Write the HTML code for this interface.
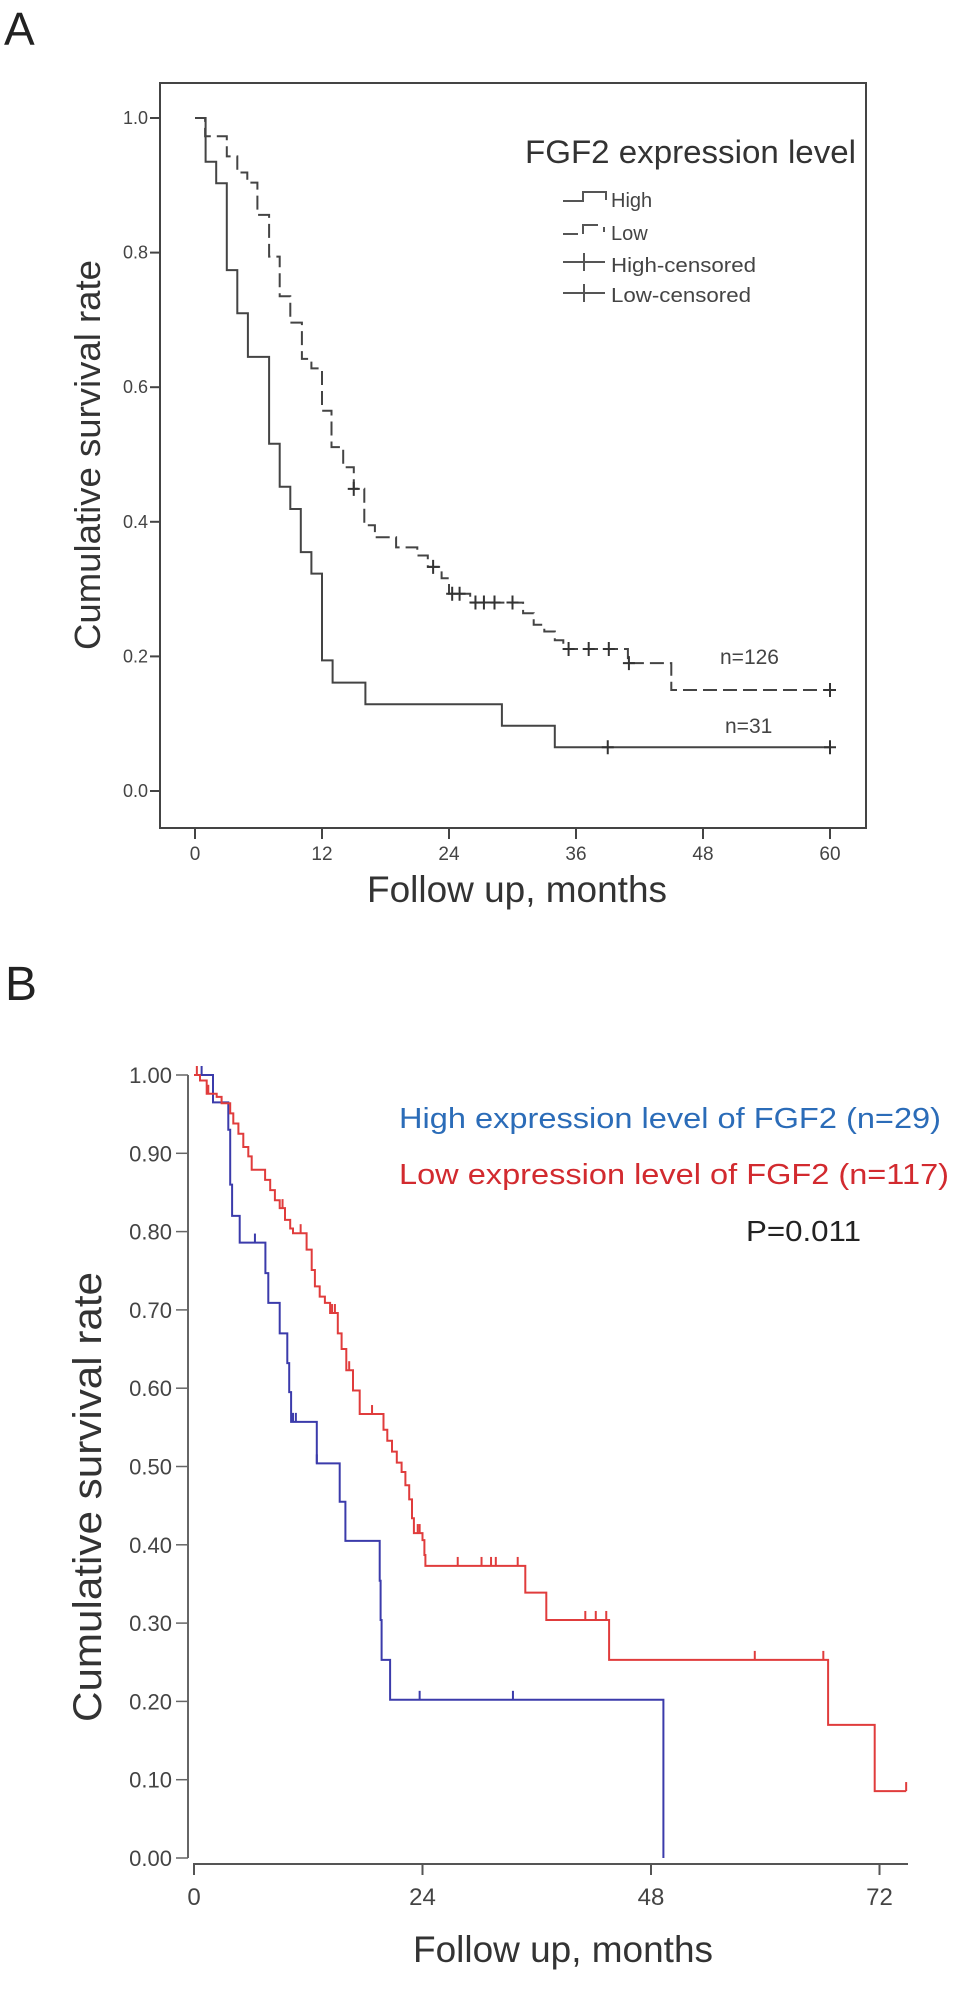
<!DOCTYPE html>
<html>
<head>
<meta charset="utf-8">
<style>
html,body{margin:0;padding:0;background:#fff;}
svg{display:block;}
text{font-family:"Liberation Sans",Arial,sans-serif;}
</style>
</head>
<body>
<svg id="fig" width="965" height="1990" viewBox="0 0 965 1990" xmlns="http://www.w3.org/2000/svg">
  <rect x="0" y="0" width="965" height="1990" fill="#fff"/>
  <!-- Panel A static -->
  <text x="4" y="45" font-size="46" fill="#222">A</text>
  <rect x="160" y="83" width="706" height="745" fill="none" stroke="#444" stroke-width="2"/>
  <g id="aAxes"></g>
  <text transform="translate(100,455) rotate(-90)" text-anchor="middle" font-size="36" fill="#333" textLength="390" lengthAdjust="spacingAndGlyphs">Cumulative survival rate</text>
  <text x="517" y="902" text-anchor="middle" font-size="37" fill="#333" textLength="300" lengthAdjust="spacingAndGlyphs">Follow up, months</text>
  <g>
    <text x="525" y="163" font-size="32" fill="#333" textLength="331" lengthAdjust="spacingAndGlyphs">FGF2 expression level</text>
    <path d="M563,201 H583 V192 H606 V200" fill="none" stroke="#555" stroke-width="2"/>
    <text x="611" y="207" font-size="20" fill="#444">High</text>
    <path d="M563,234 H578 M583,234 V225 H598 M604,227 V232" fill="none" stroke="#555" stroke-width="2"/>
    <text x="611" y="240" font-size="20" fill="#444">Low</text>
    <path d="M563,262 H605 M584,253 V271" fill="none" stroke="#555" stroke-width="2"/>
    <text x="611" y="272" font-size="20" fill="#444" textLength="145" lengthAdjust="spacingAndGlyphs">High-censored</text>
    <path d="M563,293 H605 M584,284 V302" fill="none" stroke="#555" stroke-width="2"/>
    <text x="611" y="302" font-size="20" fill="#444" textLength="140" lengthAdjust="spacingAndGlyphs">Low-censored</text>
  </g>
  <text x="720" y="664" font-size="21" fill="#444">n=126</text>
  <text x="725" y="733" font-size="21" fill="#444">n=31</text>
  <g id="aCurves"></g>

  <!-- Panel B static -->
  <text x="5" y="1000" font-size="48" fill="#222">B</text>
  <g id="bAxes"></g>
  <text transform="translate(101,1497) rotate(-90)" text-anchor="middle" font-size="40" fill="#333" textLength="450" lengthAdjust="spacingAndGlyphs">Cumulative survival rate</text>
  <text x="563" y="1962" text-anchor="middle" font-size="37" fill="#333" textLength="300" lengthAdjust="spacingAndGlyphs">Follow up, months</text>
  <text x="399" y="1128" font-size="29" fill="#2b6cb8" textLength="542" lengthAdjust="spacingAndGlyphs">High expression level of FGF2 (n=29)</text>
  <text x="399" y="1184" font-size="29" fill="#d22a2f" textLength="550" lengthAdjust="spacingAndGlyphs">Low expression level of FGF2 (n=117)</text>
  <text x="746" y="1241" font-size="29" fill="#222" textLength="115" lengthAdjust="spacingAndGlyphs">P=0.011</text>
  <g id="bCurves"></g>
</svg>
<script>
// ---------- Panel A data ----------
const aXTicks = [0, 12, 24, 36, 48, 60];
const aYTicks = [0, 0.2, 0.4, 0.6, 0.8, 1.0];
const aYTickLabels = ["0.0", "0.2", "0.4", "0.6", "0.8", "1.0"];
const aHighTimes = [0,1,2,3,4,5,7,8,9,10,11,12,13,16.1,29,34];
const aHighSurv = [1,0.935,0.903,0.774,0.71,0.645,0.516,0.452,0.419,0.355,0.323,0.194,0.161,0.129,0.097,0.065];
const aHighEnd = 60;
const aHighCensored = [39, 60];
const aLowTimes = [0,0.95,3,4,4.94,5.9,7,8,9,10.1,11,12,12.9,14,15,16,17,19,21,22,23.3,24,26,31,32,33,34,34.8,40.9,45];
const aLowSurv = [1,0.973,0.943,0.919,0.904,0.856,0.794,0.735,0.696,0.642,0.628,0.565,0.511,0.481,0.449,0.395,0.377,0.362,0.35,0.333,0.316,0.293,0.28,0.264,0.247,0.237,0.224,0.211,0.19,0.15];
const aLowEnd = 60;
const aLowCensored = [15,22.5,24.3,25,26.5,27.3,28.3,30,35.3,37.2,39.1,41,60];

// ---------- Panel B data ----------
const bXTicks = [0, 24, 48, 72];
const bYTicks = [0,0.1,0.2,0.3,0.4,0.5,0.6,0.7,0.8,0.9,1.0];
const bYTickLabels = ["0.00","0.10","0.20","0.30","0.40","0.50","0.60","0.70","0.80","0.90","1.00"];
const bHighTimes = [0,2,3.6,3.8,4,4.8,7.5,7.8,9,9.8,10,10.2,12.9,15.3,15.9,19.5,19.6,19.7,20.6,49.3];
const bHighSurv = [1,0.965,0.93,0.86,0.82,0.786,0.747,0.709,0.67,0.632,0.595,0.557,0.504,0.455,0.405,0.354,0.304,0.253,0.202,0];
const bHighEnd = 49.3;
const bHighCensored = [0.8,6.4,10.4,10.7,12.9,23.7,33.5];
const bLowTimes = [0,0.63,1.33,2.38,2.9,3.8,4.13,4.66,5.18,5.7,6.06,7.47,8.0,8.5,9.0,9.56,10.1,10.4,11.83,12.36,12.7,13.2,13.75,14.3,15.1,15.5,16.0,16.7,17.4,19.9,20.3,20.8,21.3,21.8,22.2,22.6,22.9,23.1,24.0,24.2,24.3,34.8,37.0,43.6,66.6,71.5];
const bLowSurv = [1,0.993,0.976,0.972,0.964,0.951,0.938,0.925,0.908,0.896,0.879,0.866,0.853,0.84,0.83,0.815,0.804,0.798,0.777,0.751,0.73,0.717,0.709,0.696,0.67,0.65,0.623,0.597,0.567,0.547,0.533,0.519,0.505,0.493,0.476,0.458,0.434,0.415,0.406,0.387,0.373,0.339,0.304,0.253,0.170,0.0855];
const bLowEnd = 74.8;
const bLowCensored = [0.3,1.5,9.3,11.2,14.5,14.8,16.3,18.7,23.5,23.7,27.7,30.2,31.2,31.7,34.0,41.1,42.2,43.3,58.9,66.1,74.8];

const NS = "http://www.w3.org/2000/svg";
function mk(tag, attrs, parent){
  const e = document.createElementNS(NS, tag);
  for (const k in attrs) e.setAttribute(k, attrs[k]);
  parent.appendChild(e);
  return e;
}
// axis functions
const axA = { x: m => 195 + m * (635/60), y: s => 791 - s * 673 };
const axB = { x: m => 194 + m * (228.5/24), y: s => 1858 - s * 783 };

function survAt(times, surv, t){
  let v = surv[0];
  for (let i = 0; i < times.length; i++) if (times[i] <= t + 1e-9) v = surv[i];
  return v;
}
function stepPath(ax, times, surv, end){
  let d = "M" + ax.x(times[0]).toFixed(1) + "," + ax.y(surv[0]).toFixed(1);
  for (let i = 1; i < times.length; i++){
    d += " H" + ax.x(times[i]).toFixed(1) + " V" + ax.y(surv[i]).toFixed(1);
  }
  if (surv[surv.length-1] > 0) d += " H" + ax.x(end).toFixed(1);
  return d;
}

// ---------- Panel A axes ----------
const aAxes = document.getElementById("aAxes");
aYTicks.forEach((v, i) => {
  const y = axA.y(v);
  const t = mk("line", {x1:150, x2:160, y1:y, y2:y, stroke:"#444", "stroke-width":2}, aAxes);
  
  
  const l = mk("text", {x:148, y:y+6, "text-anchor":"end", "font-size":18, fill:"#444"}, aAxes);
  
  
  l.textContent = aYTickLabels[i];
});
aXTicks.forEach(v => {
  const x = axA.x(v);
  const t = mk("line", {x1:x, x2:x, y1:828, y2:839, stroke:"#444", "stroke-width":2}, aAxes);
  
  
  const l = mk("text", {x:x, y:860, "text-anchor":"middle", "font-size":19, fill:"#444"}, aAxes);
  
  
  l.textContent = String(v);
});

// ---------- Panel A curves ----------
const aCurves = document.getElementById("aCurves");
const aHighLine = mk("path", {d: stepPath(axA, aHighTimes, aHighSurv, aHighEnd), fill:"none", stroke:"#444", "stroke-width":2}, aCurves);


const aLowLine = mk("path", {d: stepPath(axA, aLowTimes, aLowSurv, aLowEnd), fill:"none", stroke:"#444", "stroke-width":2, "stroke-dasharray":"14 6"}, aCurves);


function plusMarks(ax, times, surv, cens, parent, name){
  cens.forEach(t => {
    const x = ax.x(t), y = ax.y(survAt(times, surv, t));
    const p = mk("path", {d:`M${x-6},${y} H${x+6} M${x},${y-7} V${y+7}`, stroke:"#333", "stroke-width":2, fill:"none"}, parent);
    
    
  });
}
plusMarks(axA, aHighTimes, aHighSurv, aHighCensored, aCurves, 'panel-a-high-censor-mark');
plusMarks(axA, aLowTimes, aLowSurv, aLowCensored, aCurves, 'panel-a-low-censor-mark');

// ---------- Panel B axes ----------
const bAxes = document.getElementById("bAxes");
const yAxisB = mk("line", {x1:188, x2:188, y1:axB.y(1.0), y2:axB.y(0), stroke:"#666", "stroke-width":2}, bAxes);


const xAxisB = mk("line", {x1:193, x2:908, y1:1864, y2:1864, stroke:"#555", "stroke-width":2}, bAxes);


bYTicks.forEach((v, i) => {
  const y = axB.y(v);
  const t = mk("line", {x1:176, x2:188, y1:y, y2:y, stroke:"#666", "stroke-width":1.5}, bAxes);
  
  
  const l = mk("text", {x:172, y:y+8, "text-anchor":"end", "font-size":22, fill:"#444"}, bAxes);
  
  
  l.textContent = bYTickLabels[i];
});
bXTicks.forEach(v => {
  const x = axB.x(v);
  const t = mk("line", {x1:x, x2:x, y1:1864, y2:1875, stroke:"#555", "stroke-width":2}, bAxes);
  
  
  const l = mk("text", {x:x, y:1905, "text-anchor":"middle", "font-size":24, fill:"#444"}, bAxes);
  
  
  l.textContent = String(v);
});

// ---------- Panel B curves ----------
const bCurves = document.getElementById("bCurves");
const bHighLine = mk("path", {d: stepPath(axB, bHighTimes, bHighSurv, bHighEnd), fill:"none", stroke:"#3b3bab", "stroke-width":2}, bCurves);


const bLowLine = mk("path", {d: stepPath(axB, bLowTimes, bLowSurv, bLowEnd), fill:"none", stroke:"#e03c3c", "stroke-width":2}, bCurves);


function tickMarks(ax, times, surv, cens, parent, color, name){
  cens.forEach(t => {
    const x = ax.x(t), y = ax.y(survAt(times, surv, t));
    const p = mk("line", {x1:x, x2:x, y1:y-9, y2:y, stroke:color, "stroke-width":2}, parent);
    
    
  });
}
tickMarks(axB, bHighTimes, bHighSurv, bHighCensored, bCurves, "#3b3bab", 'panel-b-high-censor-mark');
tickMarks(axB, bLowTimes, bLowSurv, bLowCensored, bCurves, "#e03c3c", 'panel-b-low-censor-mark');
</script>
</body>
</html>
